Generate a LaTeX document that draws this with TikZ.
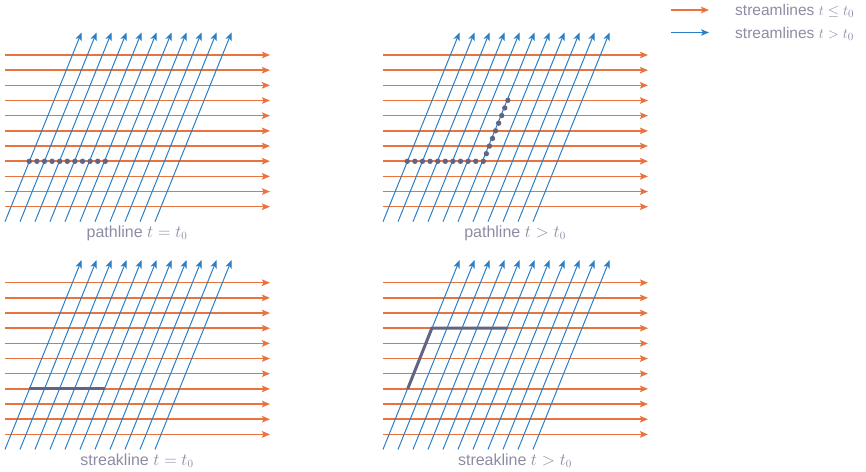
\documentclass[tikz,border=0pt]{standalone}
\usepackage{fontspec}
\setmainfont{Liberation Sans}
\usetikzlibrary{arrows.meta}
\definecolor{orgc}{HTML}{E8733F}
\definecolor{bluc}{HTML}{2B7FC6}
\definecolor{dotc}{HTML}{626482}
\definecolor{txtc}{HTML}{8C8CA4}
\tikzset{
  orangeline/.style={draw=orgc,line width=1.5pt,-{Stealth[length=8pt,width=6.5pt,inset=1.5pt]}},
  blueline/.style={draw=bluc,line width=1pt,-{Stealth[length=8pt,width=6.5pt,inset=2pt]}},
  dotstyle/.style={circle,fill=dotc,inner sep=0pt,minimum size=5.4pt},
  streak/.style={draw=dotc,line width=3pt},
  lbl/.style={text=txtc,font=\fontsize{16}{19}\selectfont,inner sep=1pt},
  legtext/.style={lbl,inner sep=0pt,font=\fontsize{15.5}{18}\selectfont},
}
\begin{document}
\begin{tikzpicture}[x=1pt,y=-1pt]
\useasboundingbox (0,0) rectangle (866,471);
\foreach \ox/\oy in {0/0,378/0,0/227.7,378/227.7}{
  \begin{scope}[shift={(\ox,\oy)}]
    \foreach \j in {0,...,10}
      \draw[orangeline] (5,55+15.17*\j) -- (270,55+15.17*\j);
    \foreach \i in {0,...,10}
      \draw[blueline] (5+15*\i,221.7) -- (81.5+15*\i,32.5);
  \end{scope}
}
% panel 1: pathline t = t0
\foreach \k in {0,...,10}
  \node[dotstyle] at (29.3+7.6*\k,161.3) {};
% panel 2: pathline t > t0
\begin{scope}[shift={(378,0)}]
  \foreach \k in {0,...,10}
    \node[dotstyle] at (29.3+7.6*\k,161.3) {};
  \foreach \k in {1,...,8}
    \node[dotstyle] at (105.3+3.07*\k,161.3-7.625*\k) {};
\end{scope}
% panel 3: streakline t = t0
\begin{scope}[shift={(0,227.7)}]
  \coordinate (s3a) at (29.3,161.1);
  \coordinate (s3b) at (105.3,161.1);
  \draw[streak] (s3a) -- (s3b);
\end{scope}
% panel 4: streakline t > t0
\begin{scope}[shift={(378,227.7)}]
  \coordinate (s4a) at (29.7,161.1);
  \coordinate (s4b) at (53.9,100.4);
  \coordinate (s4c) at (129.7,100.4);
  \draw[streak,line join=miter] (s4a) -- (s4b) -- (s4c);
\end{scope}
% labels
\node[lbl] (l1) at (137,233) {pathline $t=t_0$};
\node[lbl] (l2) at (515,233) {pathline $t>t_0$};
\node[lbl] (l3) at (137,460.5) {streakline $t=t_0$};
\node[lbl] (l4) at (515,460.5) {streakline $t>t_0$};
% legend
\coordinate (lo1) at (671,10);
\coordinate (lo2) at (709,10);
\coordinate (lb1) at (671,32.5);
\coordinate (lb2) at (709,32.5);
\draw[orangeline] (lo1) -- (lo2);
\draw[blueline] (lb1) -- (lb2);
\node[legtext,anchor=base west] (t1) at (735,15.5) {streamlines $t\leq t_0$};
\node[legtext,anchor=base west] (t2) at (735,38) {streamlines $t>t_0$};
\end{tikzpicture}
\end{document}
